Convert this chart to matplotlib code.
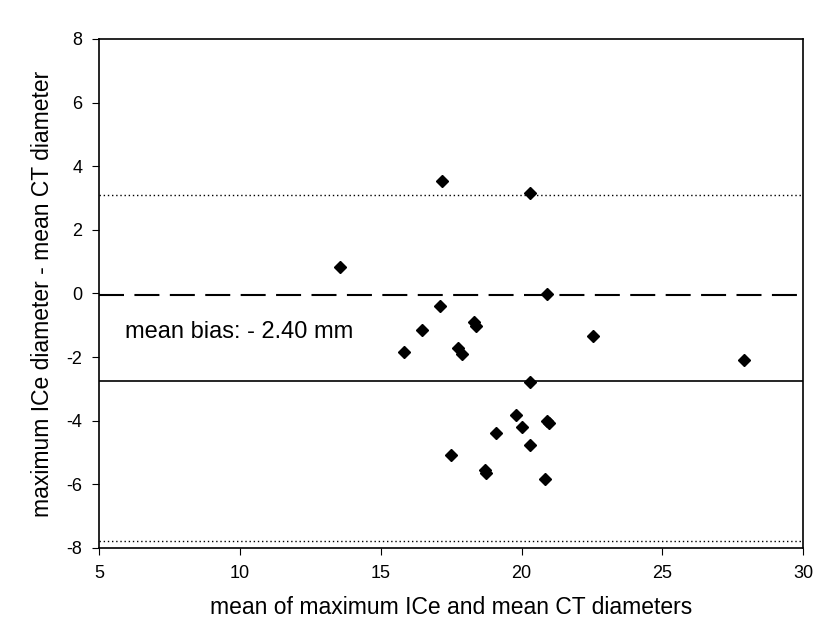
import numpy as np
import matplotlib.pyplot as plt

plt.rcParams['font.family'] = ['Liberation Sans', 'DejaVu Sans']
plt.rcParams['axes.unicode_minus'] = False

# mean of the two diameters (x) and their difference (y)
mean_diam = [13.57, 17.19, 20.30, 20.89, 17.10, 16.46, 18.31, 18.37, 15.83,
             17.75, 17.90, 22.53, 27.90, 20.30, 19.82, 20.01, 20.89, 20.97,
             19.10, 20.30, 17.48, 18.72, 18.75, 20.82]
diff_diam = [0.82, 3.54, 3.15, -0.02, -0.38, -1.16, -0.89, -1.02, -1.84,
             -1.70, -1.90, -1.34, -2.09, -2.79, -3.82, -4.19, -4.00, -4.08,
             -4.39, -4.75, -5.07, -5.55, -5.65, -5.84]

zero_line = -0.05
bias_line = -2.75
upper_loa = 3.1
lower_loa = -7.77

fig = plt.figure(figsize=(8.15, 6.27), dpi=100)
ax = fig.add_axes([0.1215, 0.126, 0.864, 0.812])

ax.axhline(upper_loa, color='black', lw=1.0, ls=(0, (1, 2)))
ax.axhline(lower_loa, color='black', lw=1.0, ls=(0, (1, 2)))
ax.axhline(zero_line, color='black', lw=1.5, ls=(0, (12, 5)))
ax.axhline(bias_line, color='black', lw=1.2)
ax.plot(mean_diam, diff_diam, 'D', color='black', ms=6.5, ls='none')

ax.text(5.92, -1.2, 'mean bias: - 2.40 mm', fontsize=17, va='center')

ax.set_xlim(5, 30)
ax.set_ylim(-8, 8)
ax.set_xticks(range(5, 31, 5))
ax.set_yticks(range(-8, 9, 2))
ax.tick_params(direction='out', length=5, pad=7, labelsize=13, top=False, right=False)
for s in ax.spines.values():
    s.set_linewidth(1.2)

ax.set_xlabel('mean of maximum ICe and mean CT diameters', fontsize=16.5, labelpad=10)
ax.set_ylabel('maximum ICe diameter - mean CT diameter', fontsize=16.5, labelpad=9)

fig.savefig('out.png', dpi=100)
